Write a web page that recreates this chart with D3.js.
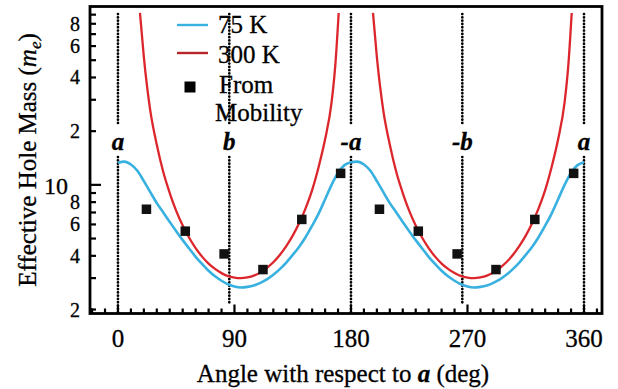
<!DOCTYPE html>
<html>
<head>
<meta charset="utf-8">
<script src="https://cdn.jsdelivr.net/npm/d3@7/dist/d3.min.js"></script>
<style>
  body { margin: 0; background: #fff; }
  text { font-family: "Liberation Serif", "Times New Roman", serif; fill: #000; stroke: #000; stroke-width: 0.3px; }
</style>
</head>
<body>
<div id="chart"></div>
<script>
// 75 K curve (deg, m_e)
const angles75 = [0, 5, 10, 15, 20, 25, 30, 35, 40, 45, 50, 55, 60, 65, 70, 75, 80, 85, 90,
  95, 100, 105, 110, 115, 120, 125, 130, 135, 140, 145, 150, 155, 160, 165, 170, 175, 180,
  185, 190, 195, 200, 205, 210, 215, 220, 225, 230, 235, 240, 245, 250, 255, 260, 265, 270,
  275, 280, 285, 290, 295, 300, 305, 310, 315, 320, 325, 330, 335, 340, 345, 350, 355, 360];
const mass75 = [13.3, 13.5, 13.0, 12.0, 10.5, 9.1, 7.9, 7.0, 6.2, 5.5, 4.9, 4.4, 3.95, 3.6, 3.3, 3.07, 2.9, 2.77, 2.69,
  2.66, 2.68, 2.73, 2.82, 2.95, 3.13, 3.37, 3.67, 4.05, 4.5, 5.1, 5.9, 6.9, 8.3, 10.0, 11.7, 12.9, 13.4,
  13.5, 13.0, 12.0, 10.5, 9.1, 7.9, 7.0, 6.2, 5.5, 4.9, 4.4, 3.95, 3.6, 3.3, 3.07, 2.9, 2.77, 2.69,
  2.66, 2.68, 2.73, 2.82, 2.95, 3.13, 3.37, 3.67, 4.05, 4.5, 5.1, 5.9, 6.9, 8.3, 10.0, 11.7, 12.9, 13.4];

// 300 K curve, two branches
const angles300a = [17, 20, 25, 30, 35, 40, 45, 50, 55, 60, 65, 70, 75, 80, 85, 90, 95,
  100, 105, 110, 115, 120, 125, 130, 135, 140, 145, 150, 155, 160, 165, 168, 170.5];
const mass300a = [92, 52, 26, 16.8, 11.8, 9.0, 7.15, 5.92, 5.05, 4.42, 3.96, 3.62, 3.38, 3.20, 3.08, 3.02, 3.00,
  3.03, 3.10, 3.23, 3.42, 3.68, 4.04, 4.53, 5.19, 6.11, 7.41, 9.35, 12.6, 18.0, 29, 48, 92];
const angles300b = [197, 200, 205, 210, 215, 220, 225, 230, 235, 240, 245, 250, 255, 260, 265, 270, 275,
  280, 285, 290, 295, 300, 305, 310, 315, 320, 325, 330, 335, 340, 345, 348, 350.5];
const mass300b = [92, 52, 26, 16.8, 11.8, 9.0, 7.15, 5.92, 5.05, 4.42, 3.96, 3.62, 3.38, 3.20, 3.08, 3.02, 3.00,
  3.03, 3.10, 3.23, 3.42, 3.68, 4.04, 4.53, 5.19, 6.11, 7.41, 9.35, 12.6, 18.0, 29, 48, 92];

// from mobility
const mobAngles = [22, 52, 82, 112, 142, 172, 202, 232, 262, 292, 322, 352];
const mobMass = [7.3, 5.5, 4.1, 3.35, 6.4, 11.6, 7.3, 5.5, 4.1, 3.35, 6.4, 11.6];

// crystal directions
const dirAngles = [0, 86, 180, 266, 360];
const dirLabels = ["a", "b", "-a", "-b", "a"];

const xTickValues = [0, 90, 180, 270, 360];
const yTickValues = [2, 4, 6, 8, 20, 40, 60, 80];
const yTickText = ["2", "4", "6", "8", "2", "4", "6", "8"];

const width = 618, height = 389;
const margin = { top: 6.5, right: 16, bottom: 75.5, left: 90 };

const cyan = "#38b1e0";
const red = "#dc262c";

const svg = d3.select("#chart").append("svg")
  .attr("width", width)
  .attr("height", height);

const x = d3.scaleLinear().domain([-21.6, 373.9]).range([margin.left, width - margin.right]);
const y = d3.scaleLog().domain([1.9, 100]).range([height - margin.bottom, margin.top]);

const plotBottom = height - margin.bottom;

// ticks (inside)
const xMinor = d3.range(-20, 371, 10);
svg.append("g").selectAll("line")
  .data(xMinor)
  .enter().append("line")
  .attr("x1", d => x(d)).attr("x2", d => x(d))
  .attr("y1", plotBottom)
  .attr("y2", d => plotBottom - (d % 90 === 0 ? 9 : 5))
  .attr("stroke", "#000").attr("stroke-width", 2.2);

const yMinor = [2, 3, 4, 5, 6, 7, 8, 9, 10, 20, 30, 40, 50, 60, 70, 80, 90];
svg.append("g").selectAll("line")
  .data(yMinor)
  .enter().append("line")
  .attr("x1", margin.left)
  .attr("x2", d => margin.left + (d === 10 ? 11 : 6))
  .attr("y1", d => y(d)).attr("y2", d => y(d))
  .attr("stroke", "#000").attr("stroke-width", 2.2);

// tick labels
svg.append("g").selectAll("text")
  .data(xTickValues)
  .enter().append("text")
  .attr("x", d => x(d))
  .attr("y", 347)
  .attr("text-anchor", "middle")
  .style("font-size", "25px")
  .text(d => d);

svg.append("g").selectAll("text")
  .data(yTickValues)
  .enter().append("text")
  .attr("x", 80)
  .attr("y", d => y(d))
  .attr("dy", "0.35em")
  .attr("text-anchor", "end")
  .style("font-size", "20px")
  .text((d, i) => yTickText[i]);

svg.append("text")
  .attr("x", 68)
  .attr("y", y(10) + 9)
  .attr("text-anchor", "end")
  .style("font-size", "24px")
  .text("10");

// dotted direction lines
const dirs = svg.append("g");
dirAngles.forEach((a, i) => {
  const bottomEnd = (dirLabels[i].includes("b")) ? plotBottom - 8 : plotBottom;
  [[14, 125], [157, bottomEnd]].forEach(seg => {
    dirs.append("line")
      .attr("x1", x(a)).attr("x2", x(a))
      .attr("y1", seg[0]).attr("y2", seg[1])
      .attr("stroke", "#000")
      .attr("stroke-width", 2.7)
      .attr("stroke-linecap", "round")
      .attr("stroke-dasharray", "0.1,3.2");
  });
  dirs.append("text")
    .attr("x", x(a))
    .attr("y", 150)
    .attr("text-anchor", "middle")
    .style("font-size", "25px")
    .style("font-weight", "bold")
    .style("font-style", "italic")
    .text(dirLabels[i]);
});

// curves
const line = d3.line()
  .x(d => x(d[0]))
  .y(d => y(d[1]))
  .curve(d3.curveMonotoneX);

svg.append("path")
  .datum(d3.zip(angles75, mass75))
  .attr("d", line)
  .attr("fill", "none")
  .attr("stroke", cyan)
  .attr("stroke-width", 2.6);

[d3.zip(angles300a, mass300a), d3.zip(angles300b, mass300b)].forEach(branch => {
  svg.append("path")
    .datum(branch)
    .attr("d", line)
    .attr("fill", "none")
    .attr("stroke", red)
    .attr("stroke-width", 2.3);
});

// mobility squares
const sq = 9.5;
svg.append("g").selectAll("rect")
  .data(d3.zip(mobAngles, mobMass))
  .enter().append("rect")
  .attr("x", d => x(d[0]) - sq / 2)
  .attr("y", d => y(d[1]) - sq / 2)
  .attr("width", sq).attr("height", sq)
  .attr("fill", "#111");

// frame
svg.append("rect")
  .attr("x", margin.left)
  .attr("y", margin.top)
  .attr("width", width - margin.left - margin.right)
  .attr("height", height - margin.top - margin.bottom)
  .attr("fill", "none")
  .attr("stroke", "#000")
  .attr("stroke-width", 2.8);

// legend
const legend = svg.append("g");
legend.append("line").attr("x1", 177).attr("x2", 208).attr("y1", 25).attr("y2", 25)
  .attr("stroke", cyan).attr("stroke-width", 2.4);
legend.append("text").attr("x", 218).attr("y", 33).style("font-size", "25px").text("75 K");
legend.append("line").attr("x1", 177).attr("x2", 208).attr("y1", 53).attr("y2", 53)
  .attr("stroke", "#b8262c").attr("stroke-width", 2.4);
legend.append("text").attr("x", 218).attr("y", 63).style("font-size", "25px").text("300 K");
legend.append("rect").attr("x", 184.5).attr("y", 81.5).attr("width", 11).attr("height", 11)
  .attr("fill", "#000");
legend.append("text").attr("x", 219).attr("y", 93).style("font-size", "25px").text("From");
legend.append("text").attr("x", 215).attr("y", 121).style("font-size", "25px").text("Mobility");

// axis titles
svg.append("text")
  .attr("x", 343)
  .attr("y", 381.5)
  .attr("text-anchor", "middle")
  .style("font-size", "25px")
  .html('Angle with respect to <tspan font-weight="bold" font-style="italic">a</tspan> (deg)');

svg.append("text")
  .attr("transform", "translate(36,160) rotate(-90)")
  .attr("text-anchor", "middle")
  .style("font-size", "25px")
  .html('Effective Hole Mass (<tspan font-style="italic">m</tspan><tspan font-style="italic" font-size="17px" dy="5">e</tspan><tspan dy="-5">)</tspan>');
</script>
</body>
</html>
